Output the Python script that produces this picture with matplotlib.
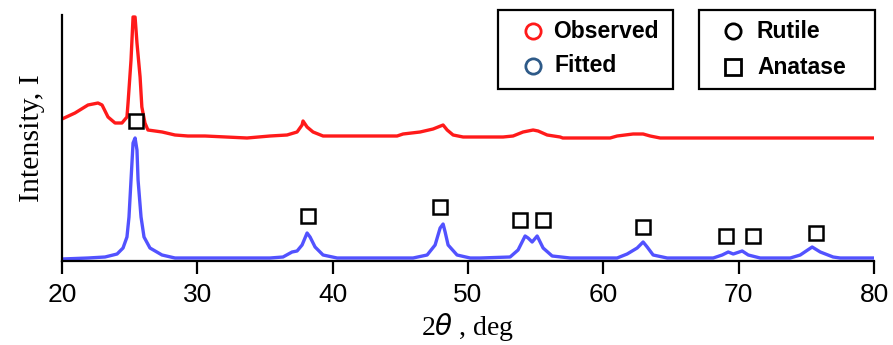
import matplotlib
matplotlib.use("Agg")
import matplotlib.pyplot as plt
from matplotlib.lines import Line2D
from matplotlib.patches import Rectangle

# ---- data ----
observed_x = [20.0, 20.96, 21.92, 22.66, 22.96, 23.4, 23.92, 24.43, 24.8, 24.88, 25.1, 25.25,
              25.4, 25.54, 25.77, 25.9, 26.13, 26.35, 27.4, 28.35, 29.3, 30.57, 33.67, 35.37,
              36.63, 37.37, 37.74, 37.81, 38.11, 38.55, 39.29, 44.76, 45.2, 46.46, 47.42,
              48.16, 48.46, 48.9, 49.64, 50.89, 52.59, 53.33, 54.07, 54.81, 55.18, 55.85,
              56.81, 57.0, 60.5, 61.02, 62.2, 62.94, 63.46, 64.2, 69.37, 80.0]
observed_y = [142, 148, 156, 158, 156, 144, 138, 138, 144, 158, 201, 244,
              244, 218, 184, 154, 138, 131, 129, 126, 125, 125, 123, 125,
              126, 129, 136, 140, 134, 129, 125, 125, 127, 129, 132,
              136, 131, 126, 124, 124, 124, 125, 129, 131, 130, 126,
              124, 123, 123, 125, 127, 127, 125, 123, 123, 123]

fitted_x = [20.0, 21.92, 23.18, 24.07, 24.51, 24.8, 24.95, 25.1, 25.25, 25.4, 25.54, 25.62,
            25.84, 26.06, 26.5, 27.39, 28.35, 30.35, 35.37, 36.33, 37.0, 37.37, 37.74, 38.11,
            38.33, 38.7, 39.29, 40.33, 45.94, 46.98, 47.57, 47.94, 48.16, 48.31, 48.53,
            49.19, 50.16, 50.89, 53.11, 53.7, 54.22, 54.44, 54.74, 55.11, 55.55, 56.22,
            57.55, 61.02, 61.76, 62.5, 62.94, 63.24, 63.68, 64.72, 65.68, 68.12, 68.78,
            69.23, 69.6, 70.26, 70.71, 71.59, 73.81, 74.55, 75.43, 76.03, 76.98, 77.5, 80.0]
fitted_y = [2, 3, 4, 7, 13, 24, 44, 81, 118, 123, 111, 81,
            44, 24, 13, 6, 3, 3, 3, 4, 9, 10, 16, 28,
            24, 14, 6, 3, 3, 6, 16, 33, 37, 29, 16,
            6, 3, 3, 4, 11, 25, 23, 19, 25, 13, 5,
            3, 3, 7, 13, 19, 14, 6, 3, 3, 3, 6,
            9, 7, 10, 6, 3, 3, 6, 14, 9, 4, 3, 3]

anatase_x = [25.47, 38.18, 47.94, 53.85, 55.55, 62.94, 69.08, 71.07, 75.73]
anatase_y = [140, 45, 54, 41, 41, 34, 25, 25, 28]

xticks = [20, 30, 40, 50, 60, 70, 80]
legend1_labels = ["Observed", "Fitted"]
legend2_labels = ["Rutile", "Anatase"]

# ---- figure ----
W, H = 893, 345
fig = plt.figure(figsize=(W / 100, H / 100), dpi=100)

def fx(px):
    return px / W

def fy(py):
    return 1 - py / H

ax = fig.add_axes([fx(62), fy(261), (874 - 62) / W, (261 - 15) / H])

red = "#ff1a1a"
blue = "#5252ff"

ax.plot(observed_x, observed_y, color=red, lw=2.4, solid_joinstyle="round", zorder=2)
ax.plot(fitted_x, fitted_y, color=blue, lw=2.4, solid_joinstyle="round", zorder=2)
ax.plot(anatase_x, anatase_y, linestyle="none", marker="s", ms=10, mfc="white",
        mec="black", mew=1.8, zorder=3, clip_on=False)

ax.set_xlim(20, 80)
ax.set_ylim(0, 246)
ax.set_xticks(xticks)
ax.set_xticklabels([str(t) for t in xticks], fontsize=19, family="Liberation Sans")
ax.set_yticks([])
for s in ["top", "right"]:
    ax.spines[s].set_visible(False)
for s in ["left", "bottom"]:
    ax.spines[s].set_linewidth(1.6)
ax.tick_params(axis="x", direction="out", length=9.5, width=1.6, pad=6)

plt.rcParams["mathtext.fontset"] = "stix"
ax.set_xlabel(r"2$\theta$ , deg", fontsize=20, family="Liberation Serif", labelpad=3)
ax.set_ylabel("Intensity, I", fontsize=21.5, family="Liberation Serif", labelpad=12)

# ---- legend boxes ----
def box(x0, x1, y0, y1):
    r = Rectangle((fx(x0), fy(y1)), fx(x1) - fx(x0), fy(y0) - fy(y1),
                  transform=fig.transFigure, fill=False, ec="black", lw=1.6)
    fig.add_artist(r)

box(498, 673, 10, 89)
box(699, 875, 10, 89)

entries = [
    (533, 31, "o", red, legend1_labels[0], 553),
    (533, 66, "o", "#2e5a88", legend1_labels[1], 555),
    (733, 31, "o", "black", legend2_labels[0], 757),
    (733, 67, "s", "black", legend2_labels[1], 757),
]
for mx, my, mk, col, lab, tx in entries:
    fig.add_artist(Line2D([fx(mx)], [fy(my)], transform=fig.transFigure, marker=mk,
                          ms=11, mfc="none", mec=col, mew=2.0, linestyle="none"))
    fig.text(fx(tx), fy(my), lab, fontsize=16.5, fontweight="bold",
             family="Liberation Sans", va="center", ha="left")

fig.savefig("out.png", dpi=100)
